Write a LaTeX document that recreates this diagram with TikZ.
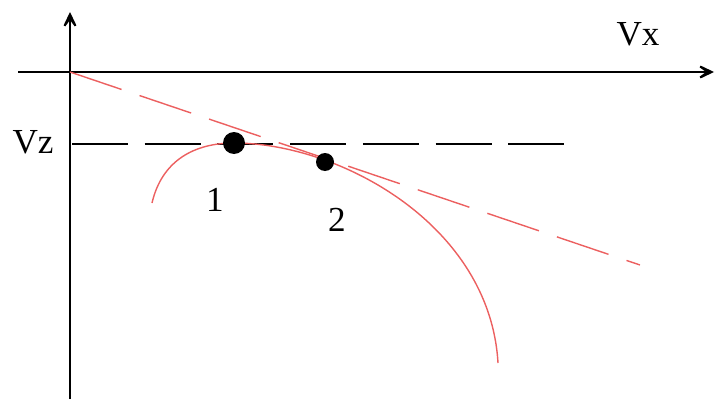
\documentclass[tikz,border=0pt]{standalone}
\usepackage{fontspec}
\setmainfont{Liberation Serif}
\usetikzlibrary{arrows.meta}
\definecolor{curvered}{RGB}{236,96,96}

\begin{document}
\begin{tikzpicture}[x=0.02cm, y=-0.02cm,
  >={Stealth[length=0.46cm, width=0.44cm, inset=0.3cm]},
  axis/.style={line width=1.6pt},
  dot/.style={circle, fill=black, inner sep=0pt, minimum size=#1},
  lbl/.style={font=\fontsize{20}{24}\selectfont, inner sep=0pt}]
\useasboundingbox (0,0) rectangle (716,399);
% axes
\coordinate (O) at (70,72);
\coordinate (xs) at (18,72);
\coordinate (xe) at (714,72);
\coordinate (yb) at (70,399);
\coordinate (ye) at (70,12);
\draw[axis,->] (xs) -- (xe);
\draw[axis,->] (yb) -- (ye);
\node[lbl] (vx) at (638,34) {Vx};
\node[lbl] (vz) at (33,142) {Vz};
% level of Vz
\coordinate (zs) at (72,144);
\coordinate (ze) at (570,144);
\draw[line width=1.4pt, dash pattern=on 31.8pt off 9.6pt] (zs) -- (ze);
% tangent from the origin
\coordinate (te) at (640,265);
\draw[curvered, line width=0.8pt, dash pattern=on 31pt off 10.8pt] (O) -- (te);
% polar curve
\coordinate (cs) at (152,203);
\coordinate (ctop) at (234,143);
\coordinate (ce) at (498,363);
\draw[curvered, line width=0.8pt] (cs) .. controls (162,160) and (195,143) .. (ctop)
  .. controls (340,143) and (490,225) .. (ce);
% points
\node[dot=0.44cm] (p1) at (234,143) {};
\node[dot=0.36cm] (p2) at (325,162) {};
\node[lbl] (n1) at (215,200) {1};
\node[lbl] (n2) at (337,220) {2};
\end{tikzpicture}
\end{document}
